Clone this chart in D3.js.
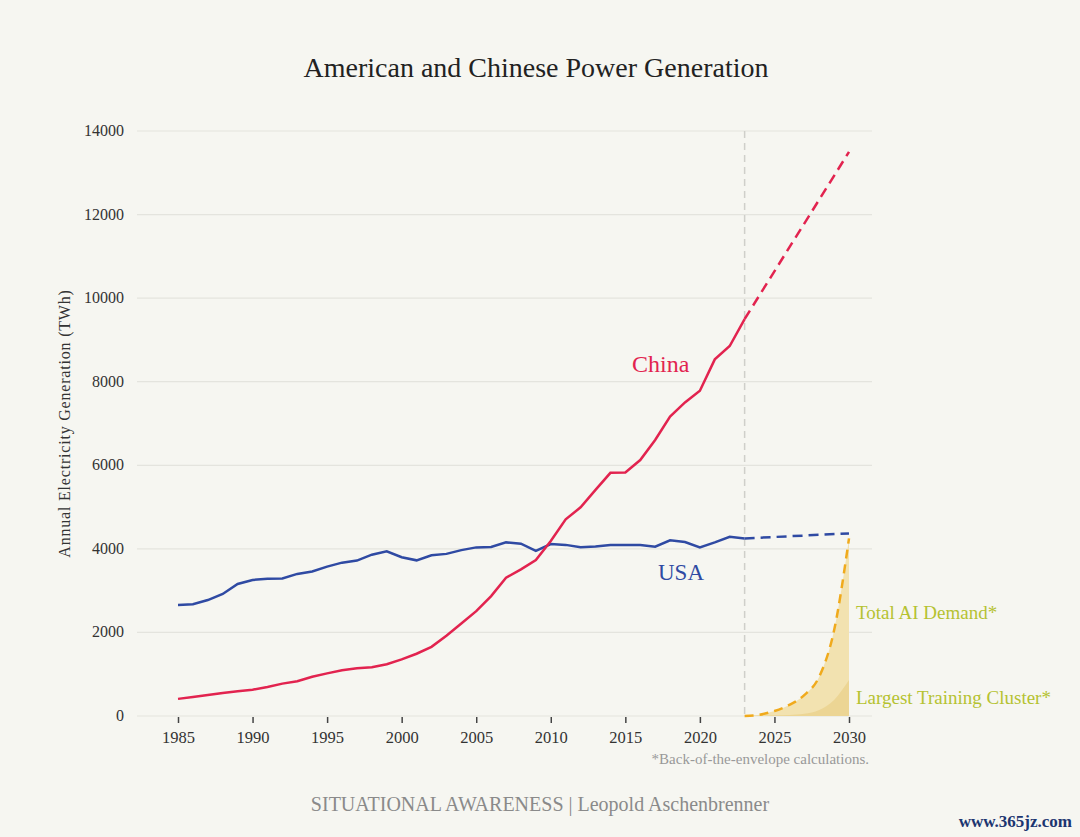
<!DOCTYPE html>
<html>
<head>
<meta charset="utf-8">
<script src="https://cdn.jsdelivr.net/npm/d3@7"></script>
<style>
  body { margin: 0; background: #f6f6f1; }
  svg { display: block; }
  text { font-family: "Liberation Serif", "DejaVu Serif", serif; }
</style>
</head>
<body>
<div id="chart"></div>
<script>
// Data (TWh)
const years = d3.range(1985, 2024);
const usaValues = [2655, 2675, 2775, 2920, 3160, 3255, 3285, 3290, 3400, 3460,
  3575, 3670, 3720, 3860, 3940, 3800, 3725, 3845, 3880, 3970,
  4035, 4045, 4155, 4125, 3950, 4115, 4095, 4040, 4055, 4095,
  4090, 4090, 4050, 4205, 4165, 4035, 4155, 4290, 4250];
const chinaValues = [410, 455, 500, 550, 590, 630, 695, 775, 830, 940,
  1020, 1095, 1140, 1165, 1240, 1355, 1490, 1655, 1920, 2215,
  2510, 2870, 3310, 3510, 3730, 4190, 4705, 4995, 5410, 5820,
  5830, 6125, 6605, 7165, 7505, 7785, 8535, 8855, 9500];
const projYears = [2023, 2030];
const usaProj = [4250, 4370];
const chinaProj = [9500, 13500];
const aiYears = [2023, 2024, 2025, 2026, 2027, 2028, 2029, 2030];
const aiDemand = [0, 30, 120, 265, 500, 940, 2050, 4250];
const clusterDemand = [0, 5, 15, 25, 55, 145, 385, 860];
const yTicks = [0, 2000, 4000, 6000, 8000, 10000, 12000, 14000];
const xTicks = [1985, 1990, 1995, 2000, 2005, 2010, 2015, 2020, 2025, 2030];

const width = 1080;
const height = 837;

const svg = d3.select("#chart").append("svg")
    .attr("width", width)
    .attr("height", height);

const x = d3.scaleLinear().domain([1985, 2030]).range([178, 849]);
const y = d3.scaleLinear().domain([0, 14000]).range([716, 131]);
const gridLeft = 137, gridRight = 872;

// Title
svg.append("text")
    .attr("x", 536).attr("y", 77)
    .attr("text-anchor", "middle")
    .attr("font-size", 28)
    .attr("fill", "#222")
    .text("American and Chinese Power Generation");

// Gridlines
svg.selectAll(".grid")
    .data(yTicks)
    .enter().append("line")
    .attr("x1", gridLeft).attr("x2", gridRight)
    .attr("y1", d => y(d)).attr("y2", d => y(d))
    .attr("stroke", "#e4e4de")
    .attr("stroke-width", 1.2);

// Y axis labels
svg.selectAll(".ytick")
    .data(yTicks)
    .enter().append("text")
    .attr("x", 124)
    .attr("y", d => y(d) + 5)
    .attr("text-anchor", "end")
    .attr("font-size", 16)
    .attr("fill", "#333")
    .text(d => d);

svg.append("text")
    .attr("transform", `translate(70,${(y(0) + y(14000)) / 2}) rotate(-90)`)
    .attr("text-anchor", "middle")
    .attr("font-size", 16)
    .attr("letter-spacing", 0.8)
    .attr("fill", "#333")
    .text("Annual Electricity Generation (TWh)");

// X axis
const xAxis = svg.append("g")
    .attr("transform", `translate(0,${y(0) + 1})`)
    .call(d3.axisBottom(x).tickValues(xTicks).tickFormat(d3.format("d")).tickSize(6).tickPadding(8));
xAxis.select(".domain").remove();
xAxis.selectAll("line").attr("stroke", "#444").attr("stroke-width", 1.5);
xAxis.selectAll("text")
    .attr("font-size", 16.5)
    .attr("fill", "#333")
    .attr("font-family", "Liberation Serif, serif");

// Vertical dashed marker at 2023
svg.append("line")
    .attr("x1", x(2023)).attr("x2", x(2023))
    .attr("y1", y(14000)).attr("y2", y(0))
    .attr("stroke", "#cfcfca")
    .attr("stroke-width", 1.5)
    .attr("stroke-dasharray", "7,5");

// AI demand areas
const areaAI = d3.area()
    .x((d, i) => x(aiYears[i]))
    .y0(y(0))
    .y1(d => y(d))
    .curve(d3.curveMonotoneX);

svg.append("path")
    .datum(aiDemand)
    .attr("d", areaAI)
    .attr("fill", "#f2e2b0");

svg.append("path")
    .datum(clusterDemand)
    .attr("d", areaAI)
    .attr("fill", "#ecd594");

const lineAI = d3.line()
    .x((d, i) => x(aiYears[i]))
    .y(d => y(d))
    .curve(d3.curveMonotoneX);

svg.append("path")
    .datum(aiDemand)
    .attr("d", lineAI)
    .attr("fill", "none")
    .attr("stroke", "#f0aa1c")
    .attr("stroke-width", 2.5)
    .attr("stroke-dasharray", "9,6");

// Historical lines
const line = d3.line()
    .x((d, i) => x(years[i]))
    .y(d => y(d));

svg.append("path")
    .datum(usaValues)
    .attr("d", line)
    .attr("fill", "none")
    .attr("stroke", "#2f4aa3")
    .attr("stroke-width", 2.5);

svg.append("path")
    .datum(chinaValues)
    .attr("d", line)
    .attr("fill", "none")
    .attr("stroke", "#e2234f")
    .attr("stroke-width", 2.5);

// Projections
const projLine = d3.line()
    .x((d, i) => x(projYears[i]))
    .y(d => y(d));

svg.append("path")
    .datum(usaProj)
    .attr("d", projLine)
    .attr("fill", "none")
    .attr("stroke", "#2f4aa3")
    .attr("stroke-width", 2.5)
    .attr("stroke-dasharray", "10,6");

svg.append("path")
    .datum(chinaProj)
    .attr("d", projLine)
    .attr("fill", "none")
    .attr("stroke", "#e2234f")
    .attr("stroke-width", 2.5)
    .attr("stroke-dasharray", "10,6");

// Series labels
svg.append("text")
    .attr("x", 632).attr("y", 372)
    .attr("font-size", 24)
    .attr("fill", "#e2234f")
    .text("China");

svg.append("text")
    .attr("x", 658).attr("y", 580)
    .attr("font-size", 23)
    .attr("fill", "#2f4aa3")
    .text("USA");

svg.append("text")
    .attr("x", 856).attr("y", 619)
    .attr("font-size", 19)
    .attr("fill", "#b5c231")
    .text("Total AI Demand*");

svg.append("text")
    .attr("x", 856).attr("y", 704)
    .attr("font-size", 19)
    .attr("fill", "#b5c231")
    .text("Largest Training Cluster*");

// Footnote and credit
svg.append("text")
    .attr("x", 869).attr("y", 764)
    .attr("text-anchor", "end")
    .attr("font-size", 15)
    .attr("fill", "#999")
    .text("*Back-of-the-envelope calculations.");

svg.append("text")
    .attr("x", 540).attr("y", 811)
    .attr("text-anchor", "middle")
    .attr("font-size", 20)
    .attr("fill", "#8a8a8a")
    .text("SITUATIONAL AWARENESS | Leopold Aschenbrenner");

svg.append("text")
    .attr("x", 1072).attr("y", 827)
    .attr("text-anchor", "end")
    .attr("font-size", 17)
    .attr("font-weight", "bold")
    .attr("fill", "#1c3570")
    .text("www.365jz.com");
</script>
</body>
</html>
